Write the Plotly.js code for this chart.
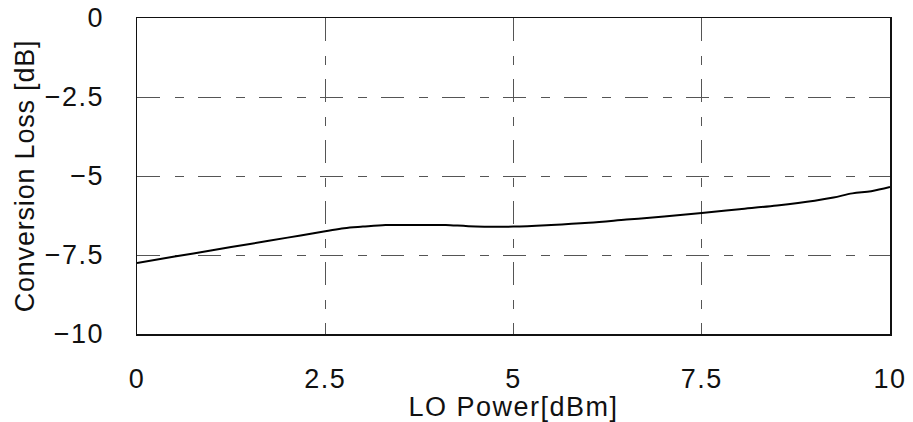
<!DOCTYPE html>
<html><head><meta charset="utf-8">
<script src="https://cdn.plot.ly/plotly-3.0.1.min.js"></script>
<style>body{margin:0;padding:0;background:#fff}#c{width:913px;height:422px}.main-svg text{letter-spacing:1.5px}.main-svg text.ytitle{letter-spacing:0.8px}</style>
</head><body><div id="c"></div>
<script>
const loPower = [0,0.5,1,1.5,2,2.5,2.75,3,3.3,3.5,4,4.1,4.5,5,5.5,6,6.5,7,7.5,8,8.5,9,9.25,9.5,9.75,10];
const convLoss = [-7.75,-7.55,-7.35,-7.15,-6.95,-6.75,-6.65,-6.6,-6.55,-6.55,-6.55,-6.55,-6.6,-6.6,-6.55,-6.48,-6.38,-6.28,-6.17,-6.05,-5.93,-5.78,-5.68,-5.55,-5.48,-5.35];
const xTicks = [0,2.5,5,7.5,10];
const xTickText = ['0','2.5','5','7.5','10'];
const yTicks = [0,-2.5,-5,-7.5,-10];
const yTickText = ['0','\u22122.5','\u22125','\u22127.5','\u221210'];
const xTitle = 'LO Power[dBm]';
const yTitle = 'Conversion Loss [dB]';

const font = {family:'Liberation Sans, Arial, sans-serif', size:27, color:'#111'};
const grid = {showgrid:true, gridcolor:'#555', gridwidth:1, griddash:'23px,15px,9px,14px',
  showline:true, linecolor:'#111', linewidth:1.5, mirror:true, ticks:'', zeroline:false, tickfont:font};
Plotly.newPlot('c', [{x:loPower, y:convLoss, mode:'lines', line:{color:'#000', width:2, shape:'spline'}, hoverinfo:'none'}], {
  width:913, height:422, showlegend:false,
  margin:{l:137, r:23, t:18, b:88},
  paper_bgcolor:'#fff', plot_bgcolor:'#fff',
  xaxis:Object.assign({}, grid, {range:[0,10], tickvals:xTicks, ticktext:xTickText, ticklabelstandoff:20,
    title:{text:xTitle, font:font, standoff:0}}),
  yaxis:Object.assign({}, grid, {range:[-10,0], tickvals:yTicks, ticktext:yTickText, ticklabelstandoff:26,
    title:{text:yTitle, font:font, standoff:8}})
}, {staticPlot:true});
</script></body></html>
